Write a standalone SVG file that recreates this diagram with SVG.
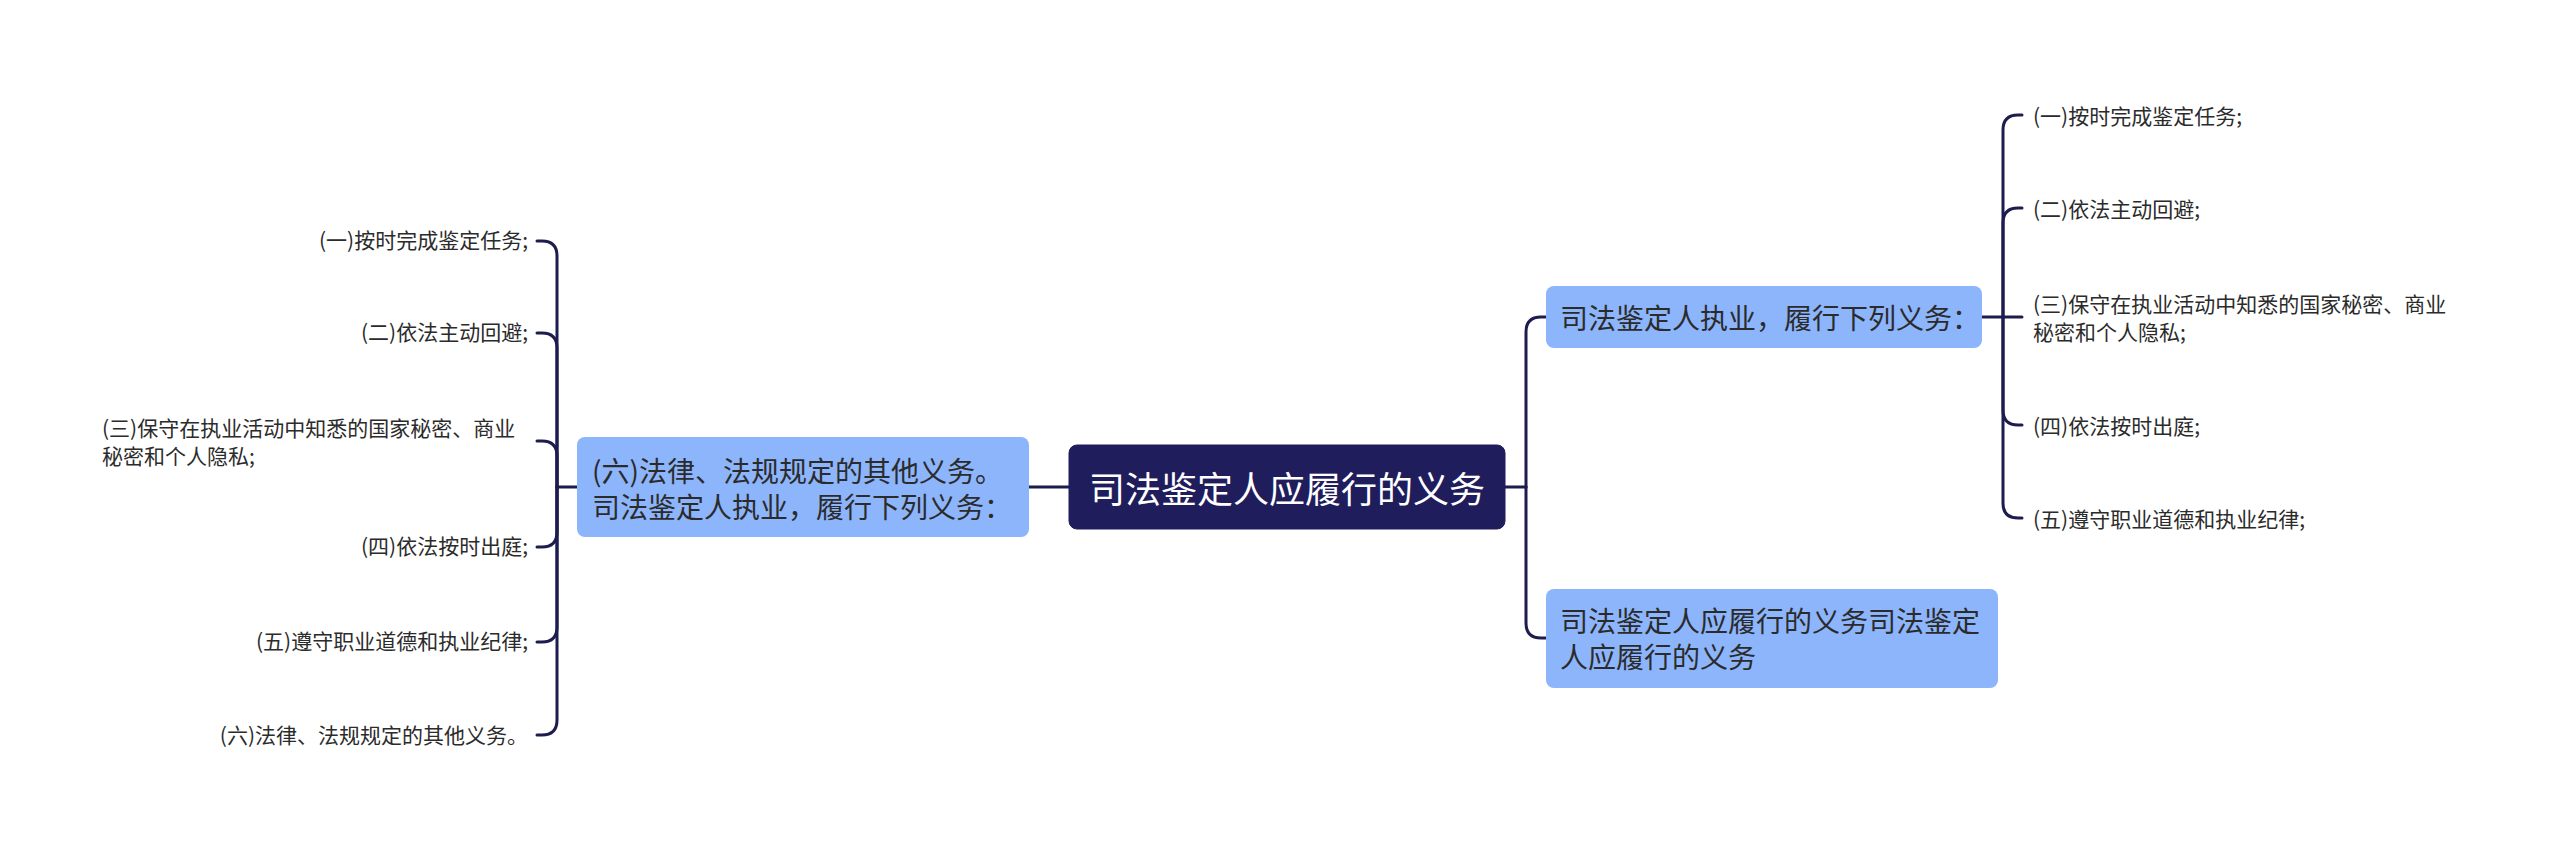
<svg xmlns="http://www.w3.org/2000/svg" width="2560" height="852" viewBox="0 0 2560 852">
<style>
.bg{fill:#ffffff}
.conn{fill:none;stroke:#1c1c4f;stroke-width:3;stroke-linecap:round;stroke-linejoin:round}
.root{fill:#1f1d5c;stroke:#1f1d5c}
.sub{fill:#8db5fb}
.t{font-family:"Noto Sans CJK SC","Noto Sans",sans-serif;dominant-baseline:central}
.rt{font-size:36px;fill:#ffffff}
.st{font-size:28px;fill:#2b2b2b}
.lt{font-size:21px;fill:#2b2b2b}
</style>
<rect class="bg" x="0" y="0" width="2560" height="852"/>
<g id="connectors">
  <path class="conn" d="M1505 487 L1526 487"/>
  <path class="conn" d="M1526 487 L1526 332 Q1526 317 1541 317 L1546 317"/>
  <path class="conn" d="M1526 487 L1526 623 Q1526 638 1541 638 L1546 638"/>
  <path class="conn" d="M1069 487 L1029 487"/>
  <path class="conn" d="M577 487 L557 487"/>
  <path class="conn" d="M557 487 L557 256 Q557 241 542 241 L537 241"/>
  <path class="conn" d="M557 487 L557 348 Q557 333 542 333 L537 333"/>
  <path class="conn" d="M557 487 L557 456 Q557 441 542 441 L537 441"/>
  <path class="conn" d="M557 487 L557 532 Q557 547 542 547 L537 547"/>
  <path class="conn" d="M557 487 L557 627 Q557 642 542 642 L537 642"/>
  <path class="conn" d="M557 487 L557 720 Q557 735 542 735 L537 735"/>
  <path class="conn" d="M1982 317 L2003 317 L2022 317"/>
  <path class="conn" d="M2003 317 L2003 130 Q2003 115 2018 115 L2022 115"/>
  <path class="conn" d="M2003 317 L2003 223 Q2003 208 2018 208 L2022 208"/>
  <path class="conn" d="M2003 317 L2003 410 Q2003 425 2018 425 L2022 425"/>
  <path class="conn" d="M2003 317 L2003 503 Q2003 518 2018 518 L2022 518"/>
</g>
<g id="root">
  <rect class="root" x="1069" y="445" width="436" height="84" rx="8"/>
  <text class="t rt" x="1287" y="487" text-anchor="middle">司法鉴定人应履行的义务</text>
</g>
<g id="left-main">
  <rect class="sub" x="577" y="437" width="452" height="100" rx="8"/>
  <text class="t st" x="592" y="470">(六)法律、法规规定的其他义务。</text>
  <text class="t st" x="592" y="506">司法鉴定人执业，履行下列义务：</text>
</g>
<g id="right-main-1">
  <rect class="sub" x="1546" y="286" width="436" height="62" rx="8"/>
  <text class="t st" x="1560" y="317">司法鉴定人执业，履行下列义务：</text>
</g>
<g id="right-main-2">
  <rect class="sub" x="1546" y="589" width="452" height="99" rx="8"/>
  <text class="t st" x="1560" y="620">司法鉴定人应履行的义务司法鉴定</text>
  <text class="t st" x="1560" y="656">人应履行的义务</text>
</g>
<g id="left-leaf-1"><text class="t lt" x="528" y="239" text-anchor="end">(一)按时完成鉴定任务;</text></g>
<g id="left-leaf-2"><text class="t lt" x="528" y="331" text-anchor="end">(二)依法主动回避;</text></g>
<g id="left-leaf-3">
  <text class="t lt" x="102" y="427">(三)保守在执业活动中知悉的国家秘密、商业</text>
  <text class="t lt" x="102" y="455">秘密和个人隐私;</text>
</g>
<g id="left-leaf-4"><text class="t lt" x="528" y="545" text-anchor="end">(四)依法按时出庭;</text></g>
<g id="left-leaf-5"><text class="t lt" x="528" y="640" text-anchor="end">(五)遵守职业道德和执业纪律;</text></g>
<g id="left-leaf-6"><text class="t lt" x="528" y="734" text-anchor="end">(六)法律、法规规定的其他义务。</text></g>
<g id="right-leaf-1"><text class="t lt" x="2033" y="115">(一)按时完成鉴定任务;</text></g>
<g id="right-leaf-2"><text class="t lt" x="2033" y="208">(二)依法主动回避;</text></g>
<g id="right-leaf-3">
  <text class="t lt" x="2033" y="303">(三)保守在执业活动中知悉的国家秘密、商业</text>
  <text class="t lt" x="2033" y="331">秘密和个人隐私;</text>
</g>
<g id="right-leaf-4"><text class="t lt" x="2033" y="425">(四)依法按时出庭;</text></g>
<g id="right-leaf-5"><text class="t lt" x="2033" y="518">(五)遵守职业道德和执业纪律;</text></g>
</svg>
